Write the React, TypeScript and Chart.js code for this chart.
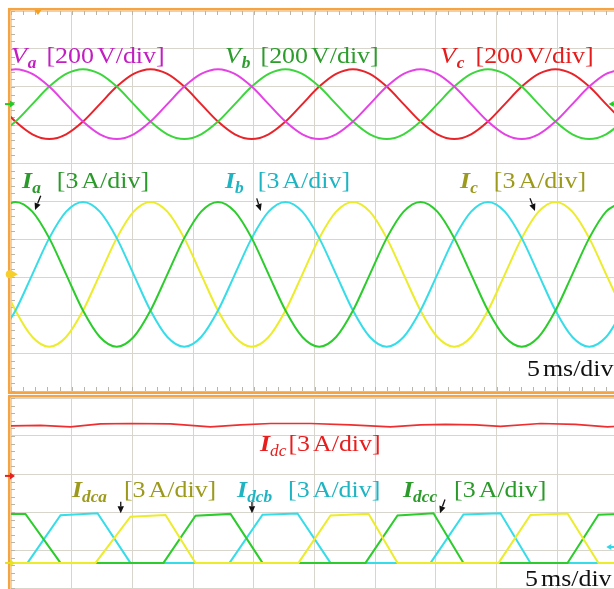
import { useEffect, useRef } from "react";
import { Chart, registerables } from "chart.js";

Chart.register(...registerables);

// ---- time base: 5 ms/div, ten divisions ----
const T_MIN = 0;
const T_MAX = 50;
const T_STEP = 5;

const VOLTS_PER_DIV = 200;
const AMPS_PER_DIV = 3;

// sample instants (ms) of the AC traces, 30 degrees apart at 60 Hz
const sampleTimes = [
  -1.02, 0.37, 1.76, 3.15, 4.54, 5.93, 7.32, 8.71, 10.1, 11.49, 12.88, 14.27, 15.66,
  17.05, 18.44, 19.83, 21.22, 22.61, 24.0, 25.39, 26.78, 28.17, 29.56, 30.95, 32.34,
  33.73, 35.12, 36.51, 37.9, 39.29, 40.68, 42.07, 43.46, 44.85, 46.24, 47.63, 49.02, 50.41,
];

// grid phase voltages (V)
const vaValues = [
  159, 184, 159, 92, 0, -92, -159, -184, -159, -92, 0, 92, 159,
  184, 159, 92, 0, -92, -159, -184, -159, -92, 0, 92, 159,
  184, 159, 92, 0, -92, -159, -184, -159, -92, 0, 92, 159, 184,
];
const vbValues = [
  -159, -92, 0, 92, 159, 184, 159, 92, 0, -92, -159, -184, -159,
  -92, 0, 92, 159, 184, 159, 92, 0, -92, -159, -184, -159,
  -92, 0, 92, 159, 184, 159, 92, 0, -92, -159, -184, -159, -92,
];
const vcValues = [
  0, -92, -159, -184, -159, -92, 0, 92, 159, 184, 159, 92, 0,
  -92, -159, -184, -159, -92, 0, 92, 159, 184, 159, 92, 0,
  -92, -159, -184, -159, -92, 0, 92, 159, 184, 159, 92, 0, -92,
];

// grid phase currents (A)
const iaValues = [
  4.95, 5.72, 4.95, 2.86, 0, -2.86, -4.95, -5.72, -4.95, -2.86, 0, 2.86, 4.95,
  5.72, 4.95, 2.86, 0, -2.86, -4.95, -5.72, -4.95, -2.86, 0, 2.86, 4.95,
  5.72, 4.95, 2.86, 0, -2.86, -4.95, -5.72, -4.95, -2.86, 0, 2.86, 4.95, 5.72,
];
const ibValues = [
  -4.95, -2.86, 0, 2.86, 4.95, 5.72, 4.95, 2.86, 0, -2.86, -4.95, -5.72, -4.95,
  -2.86, 0, 2.86, 4.95, 5.72, 4.95, 2.86, 0, -2.86, -4.95, -5.72, -4.95,
  -2.86, 0, 2.86, 4.95, 5.72, 4.95, 2.86, 0, -2.86, -4.95, -5.72, -4.95, -2.86,
];
const icValues = [
  0, -2.86, -4.95, -5.72, -4.95, -2.86, 0, 2.86, 4.95, 5.72, 4.95, 2.86, 0,
  -2.86, -4.95, -5.72, -4.95, -2.86, 0, 2.86, 4.95, 5.72, 4.95, 2.86, 0,
  -2.86, -4.95, -5.72, -4.95, -2.86, 0, 2.86, 4.95, 5.72, 4.95, 2.86, 0, -2.86,
];

// dc-link current (A)
const idcTimes = [
  0, 2.43, 4.9, 7.37, 9.84, 13.14, 16.43, 18.9, 21.38, 24.67, 27.96, 31.26, 33.73,
  35.79, 38.26, 40.32, 43.61, 46.49, 49.13, 50.5,
];
const idcValues = [
  3.95, 3.99, 3.87, 4.11, 4.14, 4.11, 3.87, 4.03, 4.14, 4.14, 4.03, 3.87, 4.03,
  4.07, 4.03, 3.91, 4.14, 4.07, 3.87, 3.95,
];

// per-leg dc currents (A)
const idcaTimes = [
  -1.69, 6.96, 9.84, 12.73, 15.2, 23.68, 26.32, 29.45, 31.84, 40.16, 42.79, 45.84, 48.39, 51.03,
];
const idcaValues = [0, 0, 3.65, 3.78, 0, 0, 3.75, 3.88, 0, 0, 3.78, 3.9, 0, 0];

const idcbTimes = [
  -1.69, 1.36, 4.08, 7.13, 9.84, 18.0, 20.72, 23.6, 26.32, 34.56, 37.27, 40.32, 42.79, 51.03,
];
const idcbValues = [0, 0, 3.77, 3.92, 0, 0, 3.8, 3.9, 0, 0, 3.82, 3.92, 0, 0];

const idccTimes = [
  -1.69, 1.19, 4.08, 12.56, 15.2, 18.08, 20.72, 29.2, 31.84, 34.8, 37.27, 45.84, 48.39, 51.03,
];
const idccValues = [3.87, 3.87, 0, 0, 3.72, 3.87, 0, 0, 3.75, 3.92, 0, 0, 3.8, 3.9];

// ---- panel geometry (divisions) ----
const TOP_DIVS = 10;
const BOT_DIVS = 6;
const V_ZERO_DIV = 2.55; // voltage reference above screen centre
const I_ZERO_DIV = -1.93; // current reference below screen centre
const IDC_ZERO_DIV = 3.95; // from bottom of lower panel
const ILEG_ZERO_DIV = 1.66;

const FAMILY = "'Liberation Serif', 'Times New Roman', serif";
const TEXT_SIZE = 24;
const SUB_SIZE = 16;
const TEXT_STRETCH = 1.08;
const GRID = "#d8d5cd";
const MINOR = "#b9b5ab";
const FRAME = "#f4a443";

type Run = { text?: string; style?: "n" | "i" | "bi"; sub?: boolean; gap?: number };
type Label = { t: number; v: number; color: string; runs: Run[] };
type Arrow = { t0: number; v0: number; t1: number; v1: number };
type Marker = { t: number; v: number; axis: string; color: string; kind: "right" | "left" | "dot" | "down" };

const perDiv = (unit: string) => [
  { text: "[" + unit.split(" ")[0] },
  { gap: 3 },
  { text: unit.split(" ")[1] + "/div]" },
];

const topLabels: Label[] = [
  { t: 0, v: 3.63, color: "#c21ec2", runs: [{ text: "V", style: "i" }, { text: "a", style: "bi", sub: true }, { gap: 10 }, ...perDiv("200 V")] },
  { t: 17.63, v: 3.63, color: "#2c9c2c", runs: [{ text: "V", style: "i" }, { text: "b", style: "bi", sub: true }, { gap: 10 }, ...perDiv("200 V")] },
  { t: 35.34, v: 3.63, color: "#e51c1c", runs: [{ text: "V", style: "i" }, { text: "c", style: "bi", sub: true }, { gap: 11 }, ...perDiv("200 V")] },
  { t: 0.91, v: 0.34, color: "#2a9a2a", runs: [{ text: "I", style: "bi" }, { text: "a", style: "bi", sub: true }, { gap: 16 }, ...perDiv("3 A")] },
  { t: 17.63, v: 0.34, color: "#1fb4c2", runs: [{ text: "I", style: "bi" }, { text: "b", style: "bi", sub: true }, { gap: 14 }, ...perDiv("3 A")] },
  { t: 36.99, v: 0.34, color: "#9c9a1c", runs: [{ text: "I", style: "bi" }, { text: "c", style: "bi", sub: true }, { gap: 16 }, ...perDiv("3 A")] },
  { t: 42.5, v: -4.61, color: "#111111", runs: [{ text: "5" }, { gap: 3 }, { text: "ms/div" }] },
];

const bottomLabels: Label[] = [
  { t: 20.51, v: 4.61, color: "#e81e1e", runs: [{ text: "I", style: "bi" }, { text: "dc", style: "i", sub: true }, { gap: 2 }, ...perDiv("3 A")] },
  { t: 5.02, v: 3.39, color: "#9c9a1c", runs: [{ text: "I", style: "bi" }, { text: "dca", style: "bi", sub: true }, { gap: 17 }, ...perDiv("3 A")] },
  { t: 18.62, v: 3.39, color: "#1fb4c2", runs: [{ text: "I", style: "bi" }, { text: "dcb", style: "bi", sub: true }, { gap: 16 }, ...perDiv("3 A")] },
  { t: 32.29, v: 3.39, color: "#2a9a2a", runs: [{ text: "I", style: "bi" }, { text: "dcc", style: "bi", sub: true }, { gap: 17 }, ...perDiv("3 A")] },
  { t: 42.34, v: 1.05, color: "#111111", runs: [{ text: "5" }, { gap: 3 }, { text: "ms/div" }] },
];

const topArrows: Arrow[] = [
  { t0: 2.45, v0: 0.14, t1: 1.98, v1: -0.24 },
  { t0: 20.24, v0: 0.07, t1: 20.57, v1: -0.26 },
  { t0: 42.75, v0: 0.07, t1: 43.16, v1: -0.26 },
];
const bottomArrows: Arrow[] = [
  { t0: 9.04, v0: 3.27, t1: 9.04, v1: 2.97 },
  { t0: 19.85, v0: 3.27, t1: 19.85, v1: 2.97 },
  { t0: 35.75, v0: 3.33, t1: 35.34, v1: 2.97 },
];

const topMarkers: Marker[] = [
  { t: 2.22, v: 5, axis: "y", color: "#f4a020", kind: "down" },
  { t: -0.25, v: 0, axis: "yV", color: "#22cc22", kind: "right" },
  { t: 49.4, v: 0, axis: "yV", color: "#22cc22", kind: "left" },
  { t: -0.1, v: 0, axis: "yI", color: "#f6cf2a", kind: "dot" },
];
const bottomMarkers: Marker[] = [
  { t: -0.25, v: 0, axis: "yIdc", color: "#e82020", kind: "right" },
  { t: -0.25, v: 0, axis: "yLeg", color: "#e8e020", kind: "right" },
  { t: 49.2, v: 1.26, axis: "yLeg", color: "#33d6e6", kind: "left" },
];

const points = (ts: number[], vs: number[]) => ts.map((t, i) => ({ x: t, y: vs[i] }));

function drawRuns(ctx: CanvasRenderingContext2D, x: number, y: number, color: string, runs: Run[]) {
  ctx.fillStyle = color;
  ctx.textAlign = "left";
  ctx.textBaseline = "alphabetic";
  let px = x;
  for (const r of runs) {
    if (r.gap) {
      px += r.gap;
      continue;
    }
    const size = r.sub ? SUB_SIZE : TEXT_SIZE;
    const style = r.style === "bi" ? "italic bold" : r.style === "i" ? "italic" : "normal";
    ctx.font = `${style} ${size}px ${FAMILY}`;
    const txt = r.text || "";
    ctx.save();
    ctx.translate(px, y + (r.sub ? 5 : 0));
    ctx.scale(TEXT_STRETCH, 1);
    ctx.fillText(txt, 0, 0);
    ctx.restore();
    px += ctx.measureText(txt).width * TEXT_STRETCH + (r.style === "i" && !r.sub ? 1 : 0);
  }
}

function makeOverlay(cfg: {
  labels: Label[];
  arrows: Arrow[];
  markers: Marker[];
  tickTop: boolean;
  tickBottom: boolean;
  yStep: number;
}) {
  return {
    id: "scopeOverlay",
    beforeDatasetsDraw(chart: any) {
      const { ctx, chartArea: a, scales } = chart;
      const xs = scales.x;
      const ys = scales.y;
      ctx.save();
      ctx.strokeStyle = MINOR;
      ctx.lineWidth = 1;
      ctx.beginPath();
      for (let t = T_MIN; t <= T_MAX + 1e-6; t += 1) {
        const px = Math.round(xs.getPixelForValue(t)) + 0.5;
        if (cfg.tickTop) {
          ctx.moveTo(px, a.top);
          ctx.lineTo(px, a.top + 4);
        }
        if (cfg.tickBottom) {
          ctx.moveTo(px, a.bottom);
          ctx.lineTo(px, a.bottom - 4);
        }
      }
      for (let v = ys.min; v <= ys.max + 1e-6; v += cfg.yStep) {
        const py = Math.round(ys.getPixelForValue(v)) + 0.5;
        ctx.moveTo(a.left, py);
        ctx.lineTo(a.left + 4, py);
      }
      ctx.stroke();
      ctx.restore();
    },
    afterDraw(chart: any) {
      const { ctx, chartArea: a, scales } = chart;
      const xs = scales.x;
      const ys = scales.y;
      ctx.save();
      // instrument frame
      ctx.strokeStyle = FRAME;
      ctx.lineWidth = 2.6;
      ctx.strokeRect(a.left - 1.75, a.top - 1.75, a.right - a.left + 3.5, a.bottom - a.top + 3.5);

      // channel reference markers
      for (const m of cfg.markers) {
        const px = xs.getPixelForValue(m.t);
        const py = scales[m.axis].getPixelForValue(m.v);
        ctx.fillStyle = m.color;
        ctx.strokeStyle = m.color;
        ctx.lineWidth = 2;
        ctx.beginPath();
        if (m.kind === "right") {
          ctx.moveTo(px - 3, py);
          ctx.lineTo(px + 3, py);
          ctx.stroke();
          ctx.beginPath();
          ctx.moveTo(px + 2, py - 3.5);
          ctx.lineTo(px + 7, py);
          ctx.lineTo(px + 2, py + 3.5);
          ctx.closePath();
          ctx.fill();
        } else if (m.kind === "left") {
          ctx.moveTo(px + 8, py);
          ctx.lineTo(px + 2, py);
          ctx.stroke();
          ctx.beginPath();
          ctx.moveTo(px + 3, py - 3);
          ctx.lineTo(px - 2, py);
          ctx.lineTo(px + 3, py + 3);
          ctx.closePath();
          ctx.fill();
        } else if (m.kind === "dot") {
          ctx.arc(px, py, 4, 0, Math.PI * 2);
          ctx.fill();
          ctx.beginPath();
          ctx.moveTo(px + 3, py - 3);
          ctx.lineTo(px + 8, py);
          ctx.lineTo(px + 3, py + 3);
          ctx.closePath();
          ctx.fill();
        } else {
          const top = a.top - 1;
          ctx.moveTo(px - 3.5, top);
          ctx.lineTo(px + 3.5, top);
          ctx.lineTo(px, top + 5);
          ctx.closePath();
          ctx.fill();
        }
      }

      // pointer arrows
      ctx.strokeStyle = "#111";
      ctx.fillStyle = "#111";
      ctx.lineWidth = 1.3;
      for (const ar of cfg.arrows) {
        const x0 = xs.getPixelForValue(ar.t0);
        const y0 = ys.getPixelForValue(ar.v0);
        const x1 = xs.getPixelForValue(ar.t1);
        const y1 = ys.getPixelForValue(ar.v1);
        const ang = Math.atan2(y1 - y0, x1 - x0);
        const hl = 7;
        const hw = 3.2;
        const bx = x1 - hl * Math.cos(ang);
        const by = y1 - hl * Math.sin(ang);
        ctx.beginPath();
        ctx.moveTo(x0, y0);
        ctx.lineTo(bx, by);
        ctx.stroke();
        ctx.beginPath();
        ctx.moveTo(x1, y1);
        ctx.lineTo(bx + hw * Math.sin(ang), by - hw * Math.cos(ang));
        ctx.lineTo(bx - hw * Math.sin(ang), by + hw * Math.cos(ang));
        ctx.closePath();
        ctx.fill();
      }

      // channel captions
      for (const lab of cfg.labels) {
        drawRuns(ctx, xs.getPixelForValue(lab.t), ys.getPixelForValue(lab.v), lab.color, lab.runs);
      }
      ctx.restore();
    },
  };
}

const gridAxis = (min: number, max: number, step: number) => ({
  type: "linear" as const,
  min,
  max,
  ticks: { display: false, stepSize: step },
  grid: { color: GRID, lineWidth: 1, drawTicks: false },
  border: { display: false },
});

const hiddenAxis = (min: number, max: number) => ({
  type: "linear" as const,
  display: false,
  min,
  max,
});

const trace = (label: string, data: { x: number; y: number }[], axis: string, color: string, width = 2, smooth = true) => ({
  label,
  data,
  yAxisID: axis,
  borderColor: color,
  borderWidth: width,
  pointRadius: 0,
  fill: false,
  cubicInterpolationMode: smooth ? ("monotone" as const) : ("default" as const),
  tension: 0,
});

export default function App() {
  const topRef = useRef<HTMLCanvasElement | null>(null);
  const botRef = useRef<HTMLCanvasElement | null>(null);

  useEffect(() => {
    if (!topRef.current || !botRef.current) return;

    const top = new Chart(topRef.current, {
      type: "line",
      data: {
        datasets: [
          trace("Va", points(sampleTimes, vaValues), "yV", "#e442e4"),
          trace("Vb", points(sampleTimes, vbValues), "yV", "#3cd63c"),
          trace("Vc", points(sampleTimes, vcValues), "yV", "#e8242a"),
          trace("Ia", points(sampleTimes, iaValues), "yI", "#2ccc2c"),
          trace("Ib", points(sampleTimes, ibValues), "yI", "#36dde8"),
          trace("Ic", points(sampleTimes, icValues), "yI", "#ecec2c"),
        ],
      },
      options: {
        responsive: false,
        animation: false,
        devicePixelRatio: 1,
        layout: { padding: { left: 11, top: 11, right: 22, bottom: 3 } },
        plugins: { legend: { display: false }, tooltip: { enabled: false } },
        scales: {
          x: gridAxis(T_MIN, T_MAX, T_STEP),
          y: gridAxis(-TOP_DIVS / 2, TOP_DIVS / 2, 1),
          yV: hiddenAxis((-TOP_DIVS / 2 - V_ZERO_DIV) * VOLTS_PER_DIV, (TOP_DIVS / 2 - V_ZERO_DIV) * VOLTS_PER_DIV),
          yI: hiddenAxis((-TOP_DIVS / 2 - I_ZERO_DIV) * AMPS_PER_DIV, (TOP_DIVS / 2 - I_ZERO_DIV) * AMPS_PER_DIV),
        },
      },
      plugins: [
        makeOverlay({ labels: topLabels, arrows: topArrows, markers: topMarkers, tickTop: true, tickBottom: true, yStep: 0.2 }),
      ],
    } as any);

    const bottom = new Chart(botRef.current, {
      type: "line",
      data: {
        datasets: [
          trace("Idc", points(idcTimes, idcValues), "yIdc", "#ef2f2f", 1.6, false),
          trace("Idca", points(idcaTimes, idcaValues), "yLeg", "#ecec2c", 2, false),
          trace("Idcc", points(idccTimes, idccValues), "yLeg", "#2ccc2c", 2, false),
          trace("Idcb", points(idcbTimes, idcbValues), "yLeg", "#36dde8", 2, false),
        ],
      },
      options: {
        responsive: false,
        animation: false,
        devicePixelRatio: 1,
        layout: { padding: { left: 11, top: 4, right: 22, bottom: 18 } },
        plugins: { legend: { display: false }, tooltip: { enabled: false } },
        scales: {
          x: gridAxis(T_MIN, T_MAX, T_STEP),
          y: gridAxis(0, BOT_DIVS, 1),
          yIdc: hiddenAxis(-IDC_ZERO_DIV * AMPS_PER_DIV, (BOT_DIVS - IDC_ZERO_DIV) * AMPS_PER_DIV),
          yLeg: hiddenAxis(-ILEG_ZERO_DIV * AMPS_PER_DIV, (BOT_DIVS - ILEG_ZERO_DIV) * AMPS_PER_DIV),
        },
      },
      plugins: [
        makeOverlay({ labels: bottomLabels, arrows: bottomArrows, markers: bottomMarkers, tickTop: false, tickBottom: false, yStep: 0.2 }),
      ],
    } as any);

    return () => {
      top.destroy();
      bottom.destroy();
    };
  }, []);

  return (
    <div
      style={{
        position: "fixed",
        left: 0,
        top: 0,
        width: 614,
        height: 589,
        overflow: "hidden",
        background: "#ffffff",
      }}
    >
      <canvas ref={topRef} width={640} height={394} style={{ position: "absolute", left: 0, top: 0 }} />
      <canvas ref={botRef} width={640} height={250} style={{ position: "absolute", left: 0, top: 394 }} />
    </div>
  );
}
